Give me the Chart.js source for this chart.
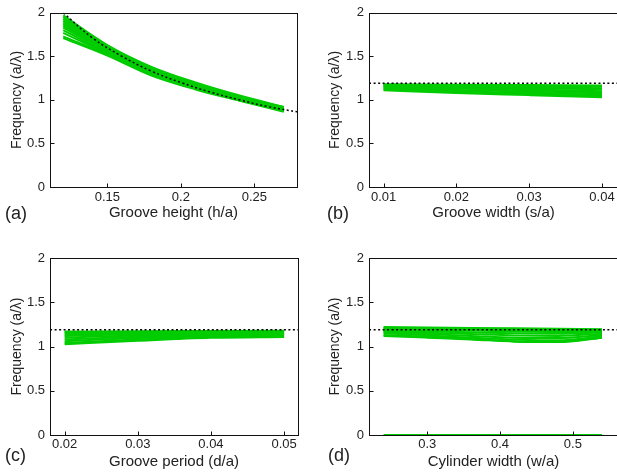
<!DOCTYPE html>
<html lang="en">
<head>
<meta charset="UTF-8">
<title>Frequency vs. groove geometry</title>
<script src="https://cdn.jsdelivr.net/npm/chart.js"></script>
<style>
    html, body { margin: 0; padding: 0; background: #fff; overflow: hidden; }
    body { width: 617px; height: 475px; position: relative; font-family: "Liberation Sans", Arial, sans-serif; }
    canvas { position: absolute; }
    .tag { position: absolute; font-size: 18px; line-height: 20px; color: #222; }
</style>
</head>
<body>
    <canvas id="chartA" width="310" height="237" style="left:0;top:0"></canvas>
    <canvas id="chartB" width="312" height="237" style="left:307px;top:0"></canvas>
    <canvas id="chartC" width="310" height="238" style="left:0;top:237px"></canvas>
    <canvas id="chartD" width="312" height="238" style="left:307px;top:237px"></canvas>
    <div class="tag" style="left:5px;top:203px">(a)</div>
    <div class="tag" style="left:327px;top:203px">(b)</div>
    <div class="tag" style="left:5px;top:445px">(c)</div>
    <div class="tag" style="left:328px;top:445px">(d)</div>

<script>
// ---- data ----
const yTicks = [0, 0.5, 1, 1.5, 2];

// (a) groove height
const hA = [0.12, 0.15, 0.18, 0.21, 0.24, 0.27];
const freqA = [
    [1.97, 1.63, 1.38, 1.20, 1.05, 0.92],
    [1.95, 1.61, 1.37, 1.19, 1.04, 0.915],
    [1.93, 1.60, 1.36, 1.18, 1.035, 0.91],
    [1.91, 1.59, 1.35, 1.175, 1.03, 0.905],
    [1.89, 1.58, 1.34, 1.17, 1.025, 0.90],
    [1.87, 1.57, 1.33, 1.16, 1.02, 0.895],
    [1.85, 1.56, 1.325, 1.155, 1.015, 0.89],
    [1.83, 1.55, 1.32, 1.15, 1.01, 0.885],
    [1.80, 1.54, 1.31, 1.14, 1.005, 0.88],
    [1.77, 1.53, 1.30, 1.135, 1.0, 0.875],
    [1.73, 1.52, 1.29, 1.13, 0.995, 0.87],
    [1.71, 1.51, 1.28, 1.12, 0.99, 0.865]
];
const cutXA = [0.12, 0.14, 0.16, 0.18, 0.20, 0.22, 0.24, 0.26, 0.28];
const cutA = [2.0, 1.71, 1.5, 1.33, 1.2, 1.09, 1.0, 0.92, 0.86];
const xTicksA = [0.15, 0.2, 0.25];

// (b) groove width
const sB = [0.01, 0.02, 0.03, 0.04];
const freqB = [
    [1.18, 1.175, 1.17, 1.165],
    [1.175, 1.165, 1.155, 1.15],
    [1.17, 1.155, 1.145, 1.135],
    [1.165, 1.15, 1.135, 1.12],
    [1.16, 1.14, 1.12, 1.10],
    [1.15, 1.13, 1.11, 1.09],
    [1.14, 1.115, 1.095, 1.075],
    [1.13, 1.10, 1.08, 1.06],
    [1.12, 1.09, 1.065, 1.045],
    [1.11, 1.08, 1.055, 1.03]
];
const cutXB = [0.008, 0.0422];
const cutB = [1.19, 1.19];
const xTicksB = [0.01, 0.02, 0.03, 0.04];

// (c) groove period
const dC = [0.02, 0.03, 0.04, 0.05];
const freqC = [
    [1.17, 1.172, 1.175, 1.178],
    [1.16, 1.165, 1.17, 1.172],
    [1.15, 1.158, 1.163, 1.166],
    [1.135, 1.148, 1.155, 1.16],
    [1.12, 1.138, 1.148, 1.153],
    [1.10, 1.125, 1.138, 1.145],
    [1.08, 1.11, 1.128, 1.137],
    [1.06, 1.095, 1.118, 1.128],
    [1.04, 1.08, 1.108, 1.118],
    [1.025, 1.065, 1.098, 1.108]
];
const cutXC = [0.018, 0.052];
const cutC = [1.19, 1.19];
const xTicksC = [0.02, 0.03, 0.04, 0.05];

// (d) cylinder width
const wD = [0.24, 0.30, 0.36, 0.42, 0.48, 0.54];
const freqD = [
    [1.22, 1.215, 1.21, 1.205, 1.20, 1.195],
    [1.21, 1.205, 1.20, 1.195, 1.19, 1.19],
    [1.20, 1.195, 1.19, 1.185, 1.18, 1.18],
    [1.19, 1.185, 1.18, 1.17, 1.165, 1.17],
    [1.18, 1.17, 1.16, 1.15, 1.145, 1.16],
    [1.17, 1.155, 1.14, 1.125, 1.12, 1.145],
    [1.16, 1.14, 1.12, 1.10, 1.095, 1.13],
    [1.15, 1.125, 1.10, 1.08, 1.07, 1.115],
    [1.13, 1.11, 1.085, 1.06, 1.055, 1.10],
    [1.12, 1.10, 1.08, 1.055, 1.05, 1.10],
    [0, 0, 0, 0, 0, 0]
];
const cutXD = [0.22, 0.562];
const cutD = [1.19, 1.19];
const xTicksD = [0.3, 0.4, 0.5];

// box round the plot plus short inward ticks
const framePlugin = {
    id: 'frame',
    afterDatasetsDraw(chart) {
        const {ctx, chartArea: a, scales: {x, y}} = chart;
        const L = Math.round(a.left) + 0.5, R = Math.round(a.right) + 0.5;
        const T = Math.round(a.top) + 0.5, B = Math.round(a.bottom) + 0.5;
        ctx.save();
        ctx.strokeStyle = '#111';
        ctx.lineWidth = 1;
        ctx.strokeRect(L, T, R - L, B - T);
        ctx.beginPath();
        x.ticks.forEach(t => {
            const px = Math.round(x.getPixelForValue(t.value)) + 0.5;
            ctx.moveTo(px, B); ctx.lineTo(px, B - 4);
        });
        y.ticks.forEach(t => {
            const py = Math.round(y.getPixelForValue(t.value)) + 0.5;
            ctx.moveTo(L, py); ctx.lineTo(L + 4, py);
        });
        ctx.stroke();
        ctx.restore();
    }
};

function pts(xs, ys) {
    return xs.map((v, i) => ({x: v, y: ys[i]}));
}

function makePanel(id, p) {
    const datasets = [{
        data: pts(p.cutX, p.cut),
        borderColor: '#000',
        borderWidth: 1.5,
        borderDash: [2, 2.5],
        pointRadius: 0,
        tension: 0.4
    }];
    p.lines.forEach(line => {
        datasets.push({
            data: pts(p.xs, line),
            borderColor: '#00cc00',
            borderWidth: 2,
            pointRadius: 0,
            cubicInterpolationMode: 'monotone'
        });
    });

    new Chart(document.getElementById(id), {
        type: 'line',
        data: { datasets },
        options: {
            responsive: false,
            animation: false,
            events: [],
            layout: { padding: p.pad },
            plugins: { legend: { display: false }, tooltip: { enabled: false } },
            scales: {
                x: {
                    type: 'linear',
                    min: p.xmin,
                    max: p.xmax,
                    grid: { display: false, drawTicks: false },
                    border: { display: false },
                    afterBuildTicks: s => { s.ticks = p.xTicks.map(v => ({value: v})); },
                    afterFit: s => { s.height = p.xHeight; },
                    ticks: {
                        padding: p.xTickPad,
                        color: '#222',
                        font: { family: 'Liberation Sans', size: 13 },
                        maxRotation: 0,
                        autoSkip: false,
                        callback: v => String(v)
                    },
                    title: {
                        display: true,
                        text: p.xTitle,
                        color: '#222',
                        font: { family: 'Liberation Sans', size: 15 },
                        padding: { top: 0, bottom: p.xTitlePad }
                    }
                },
                y: {
                    min: 0,
                    max: 2,
                    grid: { display: false, drawTicks: false },
                    border: { display: false },
                    afterBuildTicks: s => { s.ticks = yTicks.map(v => ({value: v})); },
                    afterFit: s => { s.width = p.yWidth; },
                    ticks: {
                        padding: 5,
                        color: '#222',
                        font: { family: 'Liberation Sans', size: 13 },
                        callback: v => String(v)
                    },
                    title: {
                        display: true,
                        text: 'Frequency (a/\u03bb)',
                        color: '#222',
                        font: { family: 'Liberation Sans', size: 14 },
                        padding: { top: p.yTitlePad, bottom: 0 }
                    }
                }
            }
        },
        plugins: [framePlugin]
    });
}

makePanel('chartA', {
    xs: hA, lines: freqA, cutX: cutXA, cut: cutA, xTicks: xTicksA,
    xmin: 0.111, xmax: 0.279, xTitle: 'Groove height (h/a)',
    pad: { top: 10, right: 13, left: 0, bottom: 0 },
    yWidth: 50, xHeight: 50, xTickPad: 3, xTitlePad: 15, yTitlePad: 9
});
makePanel('chartB', {
    xs: sB, lines: freqB, cutX: cutXB, cut: cutB, xTicks: xTicksB,
    xmin: 0.008, xmax: 0.0422, xTitle: 'Groove width (s/a)',
    pad: { top: 10, right: 1, left: 0, bottom: 0 },
    yWidth: 62, xHeight: 50, xTickPad: 3, xTitlePad: 15, yTitlePad: 19.5
});
makePanel('chartC', {
    xs: dC, lines: freqC, cutX: cutXC, cut: cutC, xTicks: xTicksC,
    xmin: 0.018, xmax: 0.0519, xTitle: 'Groove period (d/a)',
    pad: { top: 21, right: 12, left: 0, bottom: 0 },
    yWidth: 50, xHeight: 40, xTickPad: 2, xTitlePad: 4, yTitlePad: 8.5
});
makePanel('chartD', {
    xs: wD, lines: freqD, cutX: cutXD, cut: cutD, xTicks: xTicksD,
    xmin: 0.22, xmax: 0.562, xTitle: 'Cylinder width (w/a)',
    pad: { top: 21, right: 1, left: 0, bottom: 0 },
    yWidth: 62, xHeight: 40, xTickPad: 2, xTitlePad: 4, yTitlePad: 19.5
});
</script>
</body>
</html>
